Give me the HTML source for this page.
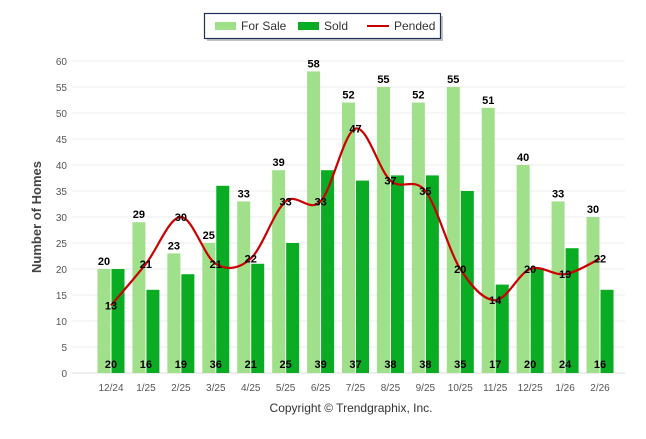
<!DOCTYPE html>
<html><head><meta charset="utf-8"><style>
body{margin:0;background:#fff;font-family:"Liberation Sans",Arial,sans-serif}
svg text{font-family:"Liberation Sans",Arial,sans-serif}
</style></head><body>
<svg id="c" width="646" height="434" viewBox="0 0 646 434">
<g>
<rect x="207" y="16" width="236" height="25" fill="#888" opacity="0.5"/>
<rect x="204.5" y="13.5" width="236" height="25" fill="#fff" stroke="#1d2f5a" stroke-width="1.2"/>
<g><rect x="215" y="22" width="21" height="8" fill="#a0e08a"/><text x="241" y="30" font-size="12" fill="#333">For Sale</text></g>
<g><rect x="298" y="22" width="21" height="8" fill="#0aac23"/><text x="324" y="30" font-size="12" fill="#333">Sold</text></g>
<g><line x1="367" y1="26" x2="389" y2="26" stroke="#c00" stroke-width="2"/><text x="394" y="30" font-size="12" fill="#333">Pended</text></g>
</g>
<text transform="translate(41,217) rotate(-90)" text-anchor="middle" font-size="13" font-weight="bold" fill="#444">Number of Homes</text>
<text x="351" y="412" text-anchor="middle" font-size="12" fill="#333">Copyright © Trendgraphix, Inc.</text>
<g id="grid"></g><g id="bars"></g><g id="line"></g><g id="labels"></g>
</svg>
<script>
const categories=["12/24","1/25","2/25","3/25","4/25","5/25","6/25","7/25","8/25","9/25","10/25","11/25","12/25","1/26","2/26"];
const forSale=[20,29,23,25,33,39,58,52,55,52,55,51,40,33,30];
const sold=[20,16,19,36,21,25,39,37,38,38,35,17,20,24,16];
const pended=[13,21,30,21,22,33,33,47,37,35,20,14,20,19,22];
const yTicks=[0,5,10,15,20,25,30,35,40,45,50,55,60];
const NS="http://www.w3.org/2000/svg";
const y=v=>373-v*(312/60);
const x=i=>111+i*34.93;
function mk(t,a,p,txt){const e=document.createElementNS(NS,t);for(const k in a)e.setAttribute(k,a[k]);if(txt!=null)e.textContent=txt;p.appendChild(e);return e;}
const G=document.getElementById('grid'),B=document.getElementById('bars'),L=document.getElementById('line'),T=document.getElementById('labels');
yTicks.forEach(v=>{
 const l=mk('line',{x1:72,x2:625,y1:y(v),y2:y(v),stroke:v==0?'#ddd':'#ececec','stroke-width':1},G);
 
 
 const t=mk('text',{x:67,y:y(v)+4,'text-anchor':'end','font-size':10,fill:'#555'},G,v);
 
 
});
categories.forEach((c,i)=>{
 const t=mk('text',{x:x(i),y:391,'text-anchor':'middle','font-size':10,fill:'#555'},G,c);
 
 
 const a=mk('rect',{x:x(i)-13.5,y:y(forSale[i]),width:13,height:373-y(forSale[i]),fill:'#a0e08a'},B);
 
 
 const b=mk('rect',{x:x(i)+0.5,y:y(sold[i]),width:13,height:373-y(sold[i]),fill:'#0aac23'},B);
 
 
 const t1=mk('text',{x:x(i)-7,y:y(forSale[i])-4,'text-anchor':'middle','font-size':11,'font-weight':'bold',fill:'#000'},T,forSale[i]);
 
 
 const t2=mk('text',{x:x(i),y:368,'text-anchor':'middle','font-size':11,'font-weight':'bold',fill:'#000'},T,sold[i]);
 
 
 const t3=mk('text',{x:x(i),y:y(pended[i])+4,'text-anchor':'middle','font-size':11,'font-weight':'bold',fill:'#000'},T,pended[i]);
 
 
});
const P=pended.map((v,i)=>[x(i),y(v)]);
let d='M'+P[0][0]+','+P[0][1];
for(let i=0;i<P.length-1;i++){
 const p0=P[i-1]||P[i],p1=P[i],p2=P[i+1],p3=P[i+2]||P[i+1];
 const c1=[p1[0]+(p2[0]-p0[0])/6,p1[1]+(p2[1]-p0[1])/6],c2=[p2[0]-(p3[0]-p1[0])/6,p2[1]-(p3[1]-p1[1])/6];
 d+=' C'+c1+' '+c2+' '+p2;
}
const pl=mk('path',{d:d,fill:'none',stroke:'#c00','stroke-width':2.2},L);


</script>
</body></html>
